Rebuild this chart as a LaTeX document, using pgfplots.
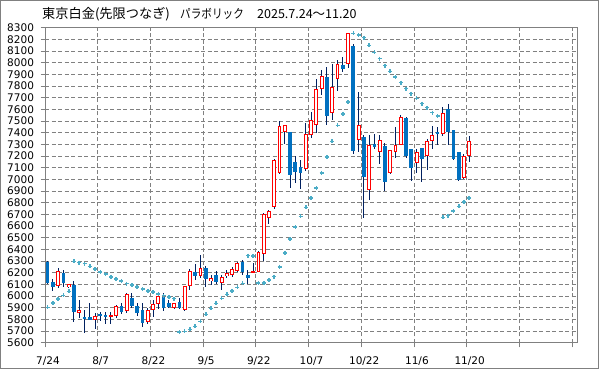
\documentclass[border=0pt]{standalone}
\usepackage{fontspec}
\setmainfont{DejaVu Sans}
\newfontfamily\jp{Noto Sans CJK JP}
\usepackage{pgfplots}
\usepackage{pgfplotstable}
\pgfplotsset{compat=1.18}
\definecolor{bodyblue}{HTML}{0070C0}
\definecolor{wick}{HTML}{002060}
\definecolor{sarc}{HTML}{4BACC6}
\definecolor{framec}{HTML}{808080}

% bullish candles (red, hollow)
\pgfplotstableread{
i O H L C
2 6087 6238 6067 6218
4 6075 6108 6070 6104
6 5858 5967 5810 5881
9 5792 5852 5718 5827
12 5824 5867 5761 5835
13 5832 5924 5810 5915
15 5875 6024 5852 6018
19 5781 5895 5761 5881
20 5878 5967 5824 5932
21 5930 6032 5890 6001
24 5901 5945 5890 5938
26 5881 6084 5875 6084
27 6090 6232 6052 6215
29 6175 6352 6152 6238
31 6132 6181 6095 6152
33 6115 6181 6052 6161
34 6172 6224 6152 6195
35 6181 6252 6167 6232
36 6218 6290 6210 6281
39 6204 6281 6195 6212
40 6204 6388 6204 6375
41 6361 6712 6303 6704
42 6672 6735 6615 6730
43 6764 7172 6750 7164
44 7058 7498 7049 7455
45 7404 7463 7306 7463
49 7086 7486 7070 7386
50 7383 7578 7358 7506
51 7463 7863 7401 7778
52 7772 7940 7721 7883
54 7569 7992 7506 7792
55 7858 8020 7758 7986
57 7992 8255 7958 8255
59 7335 7749 7235 7463
61 6907 7378 6827 7298
63 7232 7384 7129 7335
65 7055 7249 7050 7249
66 7232 7449 7186 7298
67 7292 7549 7292 7535
70 7141 7261 7058 7232
72 7198 7349 7078 7326
73 7326 7455 7258 7378
75 7386 7621 7372 7566
79 7012 7221 7005 7198
80 7201 7372 7149 7326
}\upc

% bearish candles (blue, filled)
\pgfplotstableread{
i O H L C
0 6295 6300 6100 6109
1 6121 6144 6047 6075
3 6195 6224 6075 6109
5 6095 6132 5781 5867
7 5818 5881 5687 5804
8 5821 5938 5795 5795
10 5850 5867 5787 5832
11 5838 5864 5761 5824
14 5915 5938 5847 5864
16 5987 6024 5895 5915
17 5915 5938 5832 5852
18 5881 5938 5738 5772
22 5992 6024 5875 5895
23 5944 5967 5895 5910
25 5952 5981 5890 5901
28 6204 6275 6138 6175
30 6238 6258 6075 6144
32 6181 6218 6104 6124
37 6289 6310 6181 6204
38 6181 6224 6104 6152
46 7404 7404 6927 7035
47 7149 7198 6972 7064
48 7107 7164 6921 7058
53 7878 7963 7463 7541
56 7983 8049 7920 7949
58 8143 8163 7221 7244
60 7363 7378 6672 7021
62 7304 7386 7258 7278
64 7286 7312 6898 6975
68 7529 7535 7180 7204
69 7258 7258 6987 7101
71 7266 7266 6978 7172
74 7406 7449 7292 7392
76 7603 7649 7292 7409
77 7421 7421 7170 7178
78 7232 7232 6985 6998
}\downc

% parabolic SAR
\pgfplotstableread{
i s
0 5904
1 5941
2 5974
3 6007
4 6040
5 6298
6 6288
7 6278
8 6255
9 6230
10 6208
11 6188
12 6165
13 6148
14 6128
15 6108
16 6093
17 6078
18 6060
19 6045
20 6033
21 6020
22 6005
23 5992
24 5979
25 5690
26 5698
27 5715
28 5741
29 5784
30 5844
31 5895
32 5938
33 5981
34 6015
35 6044
36 6075
37 6109
38 6347
39 6342
40 6110
41 6110
42 6138
43 6167
44 6252
45 6372
46 6487
47 6590
48 6683
49 6760
50 6840
51 6926
52 7055
53 7192
54 7326
55 7463
56 7563
57 7661
58 8252
59 8235
60 8215
61 8149
62 8089
63 8035
64 7975
65 7926
66 7875
67 7829
68 7778
69 7735
70 7695
71 7649
72 7615
73 7572
74 7541
75 6675
76 6690
77 6727
78 6769
79 6807
80 6841
}\sar

\begin{document}
\begin{tikzpicture}
\path[use as bounding box] (0pt,0pt) rectangle (599pt,369pt);
\draw[framec, line width=1pt] (0.5pt,0.5pt) rectangle (598.5pt,368.5pt);
\node[anchor=west, inner sep=0, font=\jp\fontsize{13.2}{15}\selectfont] at (42pt,355pt) {東京白金(先限つなぎ)};
\node[anchor=west, inner sep=0, font=\jp\fontsize{12.5}{15}\selectfont] at (180pt,355pt) {\scalebox{0.85}[1]{パラボリック}};
\node[anchor=west, inner sep=0, font=\jp\fontsize{12.5}{15}\selectfont] at (257pt,355pt) {2025.7.24～11.20};
\begin{axis}[
  at={(45pt,26.2pt)}, anchor=south west,
  scale only axis, width=532.3pt, height=315.1pt,
  xmin=-0.5, xmax=100.5, ymin=5600, ymax=8300,
  xtick={-0.5,9.5,...,99.5},
  xticklabels={7/24,8/7,8/22,9/5,9/22,10/7,10/22,11/6,11/20,,},
  ytick={5600,5700,...,8300},
  grid=major,
  major grid style={framec, dash pattern=on 4pt off 2.5pt, line width=0.8pt},
  axis line style={framec, line width=1pt},
  tick align=outside, xtick pos=bottom, ytick pos=left,
  major tick length=4.5pt,
  tick style={framec, line width=0.8pt},
  ticklabel style={font=\fontsize{10.5}{12}\selectfont},
  /pgf/number format/assume math mode=true,
  yticklabel style={/pgf/number format/1000 sep={}, xshift=-3pt},
  xticklabel style={xshift=3pt, yshift=-6pt},
]
% wicks
\addplot[draw=none, mark=none, forget plot,
  error bars/.cd, y dir=both, y explicit, error mark=none,
  error bar style={draw=wick, line width=1pt, solid}]
  table[x=i, y expr={(\thisrow{H}+\thisrow{L})/2}, y error expr={(\thisrow{H}-\thisrow{L})/2}] {\upc};
\addplot[draw=none, mark=none, forget plot,
  error bars/.cd, y dir=both, y explicit, error mark=none,
  error bar style={draw=wick, line width=1pt, solid}]
  table[x=i, y expr={(\thisrow{H}+\thisrow{L})/2}, y error expr={(\thisrow{H}-\thisrow{L})/2}] {\downc};
% bearish bodies
\addplot[draw=none, mark=none, forget plot,
  error bars/.cd, y dir=both, y explicit, error mark=none,
  error bar style={draw=bodyblue, line width=3.7pt, solid}]
  table[x=i, y expr={(\thisrow{O}+\thisrow{C})/2}, y error expr={abs(\thisrow{C}-\thisrow{O})/2}] {\downc};
% bullish bodies: red outline then white inside
\addplot[draw=none, mark=none, forget plot,
  error bars/.cd, y dir=both, y explicit, error mark=none,
  error bar style={draw=red, line width=3.9pt, solid}]
  table[x=i, y expr={(\thisrow{O}+\thisrow{C})/2}, y error expr={abs(\thisrow{C}-\thisrow{O})/2}] {\upc};
\addplot[draw=none, mark=none, forget plot,
  error bars/.cd, y dir=both, y explicit, error mark=none,
  error bar style={draw=white, line width=1.9pt, solid}]
  table[x=i, y expr={(\thisrow{O}+\thisrow{C})/2}, y error expr={max(abs(\thisrow{C}-\thisrow{O})/2-8.6,0)}] {\upc};
% SAR
\addplot[only marks, mark=+, mark size=2pt, draw=sarc, line width=1.6pt] table[x=i, y=s] {\sar};
\end{axis}
\end{tikzpicture}
\end{document}
